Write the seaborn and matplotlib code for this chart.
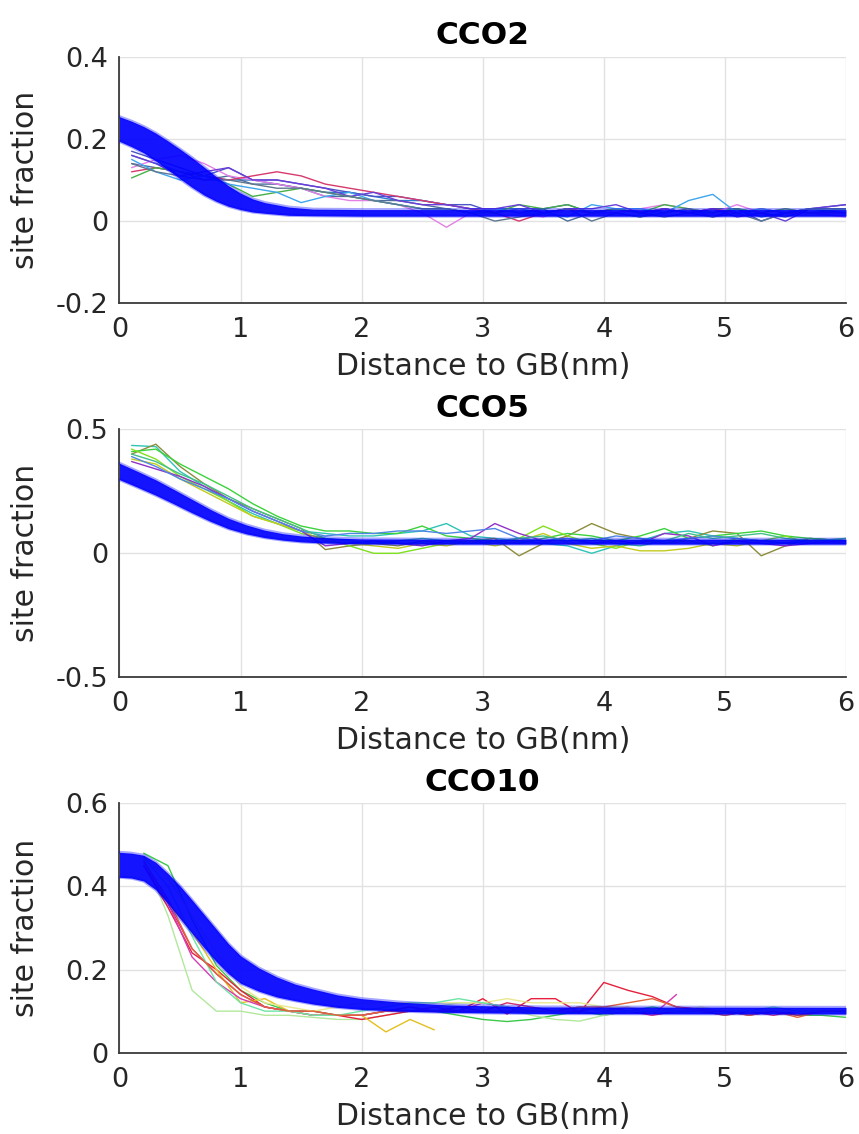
import numpy as np
import pandas as pd
import matplotlib
matplotlib.use("Agg")
import matplotlib.pyplot as plt
import seaborn as sns

sns.set_theme(style="white")
plt.rcParams["font.family"] = ["DejaVu Sans"]

# ---------------- data ----------------
titles = ["CCO2", "CCO5", "CCO10"]
x_label = "Distance to GB(nm)"
y_label = "site fraction"
x_ticks = [0, 1, 2, 3, 4, 5, 6]
y_ticks = [[-0.2, 0, 0.2, 0.4], [-0.5, 0, 0.5], [0, 0.2, 0.4, 0.6]]
y_ticklabels = [["-0.2", "0", "0.2", "0.4"], ["-0.5", "0", "0.5"], ["0", "0.2", "0.4", "0.6"]]
y_limits = [(-0.2, 0.4), (-0.5, 0.5), (0, 0.6)]

# thin measured profiles
x_cco2 = [0.1, 0.3, 0.5, 0.7, 0.9, 1.1, 1.3, 1.5, 1.7, 1.9, 2.1, 2.3, 2.5, 2.7, 2.9,
          3.1, 3.3, 3.5, 3.7, 3.9, 4.1, 4.3, 4.5, 4.7, 4.9, 5.1, 5.3, 5.5, 5.7, 6.0]
cco2_runs = {
    "a": [0.16, 0.14, 0.12, 0.11, 0.10, 0.10, 0.09, 0.08, 0.07, 0.07, 0.06, 0.05, 0.05, 0.04, 0.03,
          0.03, 0.03, 0.02, 0.03, 0.02, 0.02, 0.01, 0.03, 0.02, 0.02, 0.03, 0.01, 0.02, 0.03, 0.02],
    "b": [0.14, 0.13, 0.12, 0.10, 0.11, 0.09, 0.09, 0.08, 0.06, 0.06, 0.05, 0.05, 0.04, 0.03, 0.02,
          0.03, 0.02, 0.03, 0.00, 0.02, 0.03, 0.02, 0.01, 0.02, 0.03, 0.03, 0.02, 0.01, 0.03, 0.03],
    "c": [0.17, 0.15, 0.13, 0.11, 0.13, 0.10, 0.10, 0.09, 0.08, 0.07, 0.06, 0.06, 0.05, 0.04, 0.04,
          0.02, 0.03, 0.03, 0.04, 0.02, 0.03, 0.02, 0.03, 0.02, 0.01, 0.03, 0.00, 0.02, 0.03, 0.04],
    "d": [0.13, 0.15, 0.16, 0.14, 0.11, 0.10, 0.09, 0.08, 0.06, 0.05, 0.05, 0.04, 0.02, -0.015, 0.02,
          0.03, 0.02, 0.01, 0.03, 0.02, 0.02, 0.03, 0.04, 0.03, 0.02, 0.04, 0.02, 0.03, 0.02, 0.01],
    "e": [0.12, 0.13, 0.12, 0.11, 0.10, 0.11, 0.12, 0.11, 0.09, 0.08, 0.07, 0.06, 0.05, 0.04, 0.03,
          0.02, 0.00, 0.02, 0.03, 0.02, 0.03, 0.02, 0.03, 0.02, 0.03, 0.02, 0.03, 0.02, 0.02, 0.02],
    "f": [0.105, 0.13, 0.12, 0.11, 0.09, 0.06, 0.07, 0.08, 0.07, 0.06, 0.05, 0.04, 0.03, 0.03, 0.02,
          0.02, 0.04, 0.03, 0.04, 0.02, 0.03, 0.02, 0.04, 0.03, 0.02, 0.03, 0.02, 0.03, 0.02, 0.03],
    "g": [0.15, 0.12, 0.10, 0.11, 0.09, 0.08, 0.07, 0.045, 0.06, 0.07, 0.05, 0.04, 0.03, 0.03, 0.02,
          0.03, 0.02, 0.02, 0.01, 0.04, 0.03, 0.03, 0.02, 0.05, 0.065, 0.02, 0.03, 0.02, 0.03, 0.03],
    "h": [0.16, 0.14, 0.11, 0.12, 0.13, 0.10, 0.10, 0.09, 0.08, 0.06, 0.07, 0.05, 0.04, 0.04, 0.03,
          0.03, 0.04, 0.02, 0.03, 0.03, 0.04, 0.02, 0.03, 0.02, 0.03, 0.01, 0.02, 0.00, 0.03, 0.04],
    "i": [0.14, 0.12, 0.11, 0.10, 0.10, 0.09, 0.08, 0.08, 0.07, 0.06, 0.05, 0.04, 0.03, 0.03, 0.02,
          0.00, 0.01, 0.02, 0.03, 0.00, 0.02, 0.01, 0.02, 0.03, 0.01, 0.02, 0.00, 0.02, 0.03, 0.03],
}
cco2_colors = ["#2b7bd0", "#4d6e9a", "#4b55c8", "#e57fe8", "#d63a6e",
               "#45b045", "#3ea6ee", "#6a3fd8", "#5f7890"]

x_cco5 = x_cco2
cco5_runs = {
    "a": [0.435, 0.43, 0.33, 0.27, 0.21, 0.16, 0.12, 0.09, 0.08, 0.07, 0.07, 0.08, 0.09, 0.12, 0.07,
          0.06, 0.05, 0.04, 0.03, 0.00, 0.03, 0.05, 0.08, 0.09, 0.07, 0.06, 0.05, 0.04, 0.06, 0.05],
    "b": [0.40, 0.44, 0.35, 0.28, 0.22, 0.18, 0.14, 0.10, 0.015, 0.03, 0.04, 0.03, 0.05, 0.04, 0.05,
          0.06, -0.01, 0.04, 0.07, 0.12, 0.08, 0.06, 0.04, 0.06, 0.09, 0.08, -0.01, 0.03, 0.06, 0.05],
    "c": [0.41, 0.42, 0.36, 0.31, 0.26, 0.20, 0.15, 0.11, 0.09, 0.09, 0.08, 0.08, 0.11, 0.07, 0.06,
          0.05, 0.04, 0.06, 0.08, 0.07, 0.05, 0.07, 0.10, 0.06, 0.07, 0.08, 0.09, 0.07, 0.06, 0.05],
    "d": [0.42, 0.38, 0.31, 0.26, 0.21, 0.15, 0.12, 0.08, 0.06, 0.03, 0.00, 0.00, 0.02, 0.04, 0.05,
          0.04, 0.06, 0.11, 0.07, 0.04, 0.02, 0.05, 0.04, 0.05, 0.03, 0.06, 0.05, 0.07, 0.04, 0.06],
    "e": [0.38, 0.36, 0.30, 0.25, 0.20, 0.15, 0.12, 0.09, 0.05, 0.04, 0.03, 0.02, 0.04, 0.03, 0.05,
          0.03, 0.05, 0.08, 0.04, 0.02, 0.03, 0.01, 0.01, 0.02, 0.04, 0.03, 0.05, 0.04, 0.05, 0.04],
    "f": [0.37, 0.34, 0.31, 0.27, 0.22, 0.17, 0.13, 0.09, 0.03, 0.04, 0.05, 0.04, 0.03, 0.05, 0.06,
          0.12, 0.08, 0.05, 0.06, 0.04, 0.05, 0.04, 0.08, 0.07, 0.03, 0.05, 0.04, 0.03, 0.04, 0.05],
    "g": [0.39, 0.35, 0.30, 0.26, 0.22, 0.17, 0.13, 0.09, 0.07, 0.08, 0.08, 0.09, 0.09, 0.08, 0.09,
          0.10, 0.06, 0.05, 0.06, 0.05, 0.07, 0.06, 0.05, 0.06, 0.07, 0.06, 0.05, 0.04, 0.05, 0.05],
    "h": [0.40, 0.37, 0.32, 0.28, 0.23, 0.18, 0.14, 0.10, 0.06, 0.05, 0.04, 0.05, 0.06, 0.05, 0.04,
          0.05, 0.06, 0.07, 0.05, 0.06, 0.04, 0.03, 0.05, 0.08, 0.06, 0.07, 0.08, 0.06, 0.05, 0.06],
}
cco5_colors = ["#2ec4b6", "#8c8c3c", "#3cd23c", "#7ee01e", "#c2cc1e",
               "#9132c8", "#4f85e6", "#42c08a"]

x_cco10 = [0.2, 0.4, 0.6, 0.8, 1.0, 1.2, 1.4, 1.6, 1.8, 2.0, 2.2, 2.4, 2.6, 2.8, 3.0,
           3.2, 3.4, 3.6, 3.8, 4.0, 4.2, 4.4, 4.6, 4.8, 5.0, 5.2, 5.4, 5.6, 5.8, 6.0]
cco10_runs = {
    "a": [0.48, 0.45, 0.32, 0.21, 0.15, 0.12, 0.10, 0.10, 0.09, 0.09, 0.10, 0.11, 0.10, 0.09, 0.08,
          0.075, 0.08, 0.09, 0.10, 0.09, 0.10, 0.11, 0.10, 0.10, 0.09, 0.10, 0.10, 0.09, 0.09, 0.085],
    "b": [0.47, 0.33, 0.15, 0.10, 0.10, 0.09, 0.09, 0.085, 0.08, 0.08, 0.09, 0.10, 0.11, 0.12, 0.12,
          0.11, 0.09, 0.08, 0.076, 0.09, 0.10, 0.10, 0.10, 0.10, 0.10, 0.10, 0.10, 0.10, 0.10, 0.10],
    "c": [0.45, 0.35, 0.24, 0.20, 0.15, 0.11, 0.10, 0.09, 0.09, 0.08, 0.09, 0.10, 0.10, 0.10, 0.13,
          0.093, 0.13, 0.13, 0.096, 0.169, 0.15, 0.135, 0.11, 0.105, 0.10, 0.09, 0.10, 0.09, 0.10, 0.10],
    "d": [0.46, 0.36, 0.25, 0.19, 0.14, 0.11, 0.10, 0.10, 0.09, 0.09, 0.10, 0.11, 0.10, 0.11, 0.10,
          0.12, 0.11, 0.10, 0.10, 0.11, 0.10, 0.09, 0.10, 0.10, 0.09, 0.10, 0.09, 0.10, 0.10, 0.10],
    "e": [0.46, 0.36, 0.29, 0.20, 0.12, 0.13, 0.10, 0.09, 0.09, 0.09, 0.05, 0.08, 0.055],
    "f": [0.45, 0.36, 0.23, 0.17, 0.13, 0.11, 0.10, 0.09, 0.09, 0.09, 0.10, 0.10, 0.11, 0.10, 0.12,
          0.11, 0.10, 0.10, 0.11, 0.10, 0.11, 0.09, 0.14],
    "g": [0.47, 0.42, 0.33, 0.24, 0.16, 0.12, 0.11, 0.10, 0.11, 0.12, 0.12, 0.12, 0.12, 0.12, 0.12,
          0.13, 0.12, 0.12, 0.12, 0.11, 0.11, 0.10, 0.10, 0.11, 0.10, 0.10, 0.10, 0.10, 0.10, 0.10],
    "h": [0.47, 0.40, 0.28, 0.17, 0.12, 0.10, 0.10, 0.09, 0.09, 0.10, 0.11, 0.12, 0.12, 0.13, 0.12,
          0.11, 0.10, 0.10, 0.11, 0.10, 0.10, 0.10, 0.10, 0.10, 0.10, 0.10, 0.11, 0.10, 0.10, 0.10],
    "i": [0.46, 0.37, 0.25, 0.19, 0.14, 0.11, 0.10, 0.10, 0.09, 0.09, 0.10, 0.10, 0.10, 0.10, 0.10,
          0.10, 0.10, 0.10, 0.11, 0.11, 0.12, 0.13, 0.11, 0.10, 0.10, 0.09, 0.10, 0.085, 0.10, 0.10],
}
cco10_colors = ["#3cc84a", "#b2e89c", "#e6203c", "#d4306c", "#e4c01e",
                "#d63cb4", "#e8e890", "#6ee4a4", "#e0643a"]

# fitted model band (lower / upper envelope of the blue curves)
band_x_cco2 = [0.0, 0.1, 0.2, 0.3, 0.4, 0.5, 0.6, 0.7, 0.8, 0.9, 1.0, 1.1, 1.2, 1.4, 1.6, 2.0, 6.0]
band_lo_cco2 = [0.194, 0.181, 0.166, 0.146, 0.125, 0.103, 0.082, 0.063, 0.048, 0.036, 0.028,
                0.022, 0.019, 0.014, 0.013, 0.012, 0.012]
band_hi_cco2 = [0.254, 0.243, 0.230, 0.214, 0.195, 0.175, 0.154, 0.131, 0.108, 0.086, 0.068,
                0.054, 0.045, 0.034, 0.029, 0.028, 0.028]

band_x_cco5 = [0.0, 0.15, 0.3, 0.45, 0.6, 0.75, 0.9, 1.05, 1.2, 1.35, 1.5, 1.7, 2.0, 2.5, 6.0]
band_lo_cco5 = [0.297, 0.266, 0.234, 0.199, 0.163, 0.129, 0.099, 0.078, 0.063, 0.053, 0.046,
                0.041, 0.038, 0.037, 0.037]
band_hi_cco5 = [0.363, 0.330, 0.296, 0.257, 0.217, 0.177, 0.141, 0.114, 0.093, 0.079, 0.070,
                0.063, 0.058, 0.057, 0.057]

band_x_cco10 = [0.0, 0.1, 0.2, 0.3, 0.4, 0.5, 0.6, 0.7, 0.8, 0.9, 1.0, 1.15, 1.3, 1.45, 1.6,
                1.8, 2.0, 2.3, 2.7, 3.5, 6.0]
band_lo_cco10 = [0.422, 0.420, 0.413, 0.392, 0.359, 0.323, 0.287, 0.252, 0.219, 0.190, 0.167,
                 0.148, 0.134, 0.125, 0.117, 0.109, 0.104, 0.100, 0.097, 0.094, 0.093]
band_hi_cco10 = [0.482, 0.480, 0.475, 0.458, 0.431, 0.401, 0.367, 0.332, 0.297, 0.262, 0.233,
                 0.204, 0.182, 0.165, 0.153, 0.139, 0.130, 0.122, 0.115, 0.110, 0.109]

panels = [
    (x_cco2, cco2_runs, cco2_colors, band_x_cco2, band_lo_cco2, band_hi_cco2),
    (x_cco5, cco5_runs, cco5_colors, band_x_cco5, band_lo_cco5, band_hi_cco5),
    (x_cco10, cco10_runs, cco10_colors, band_x_cco10, band_lo_cco10, band_hi_cco10),
]

# ---------------- layout ----------------
W, H = 859, 1134
axes_px = [(119.5, 56.7, 846.0, 303.3), (119.5, 429.3, 846.0, 677.3), (119.5, 803.3, 846.0, 1052.7)]

fig = plt.figure(figsize=(W / 100, H / 100), dpi=100)
fig.patch.set_facecolor("white")

TXT = "#262626"
SPINE = "#3a3a3a"
BLUE = (0.0, 0.0, 1.0)

for i, (xs, runs, cols, bx, blo, bhi) in enumerate(panels):
    l, t, r, b = axes_px[i]
    ax = fig.add_axes([l / W, (H - b) / H, (r - l) / W, (b - t) / H])
    ax.set_facecolor("white")

    rows = []
    for name, ys in runs.items():
        for xv, yv in zip(xs, ys):
            rows.append((name, xv, yv))
    df = pd.DataFrame(rows, columns=["run", "distance", "fraction"])
    names = list(runs.keys())
    sns.lineplot(data=df, x="distance", y="fraction", hue="run", hue_order=names,
                 palette=dict(zip(names, cols)), estimator=None, legend=False,
                 lw=1.0, ax=ax, zorder=2)

    ax.fill_between(bx, blo, bhi, color=BLUE, alpha=0.92, lw=0, zorder=3)
    edge_df = pd.DataFrame({"distance": list(bx) * 2,
                            "fraction": list(blo) + list(bhi),
                            "edge": ["lo"] * len(bx) + ["hi"] * len(bx)})
    sns.lineplot(data=edge_df, x="distance", y="fraction", hue="edge",
                 palette={"lo": BLUE, "hi": BLUE}, estimator=None, legend=False,
                 lw=2.2, alpha=0.35, ax=ax, zorder=3)

    ax.set_xlim(0, 6)
    ax.set_ylim(*y_limits[i])
    ax.set_xticks(x_ticks)
    ax.set_xticklabels([str(v) for v in x_ticks])
    ax.set_yticks(y_ticks[i])
    ax.set_yticklabels(y_ticklabels[i])

    ax.grid(True, color="#e2e2e2", lw=1.0)
    ax.set_axisbelow(True)
    for s in ["top", "right"]:
        ax.spines[s].set_visible(False)
    for s in ["left", "bottom"]:
        ax.spines[s].set_color(SPINE)
        ax.spines[s].set_linewidth(1.3)
    ax.tick_params(direction="in", length=5, width=1.0, color=SPINE,
                   labelsize=19.5, labelcolor=TXT)
    ax.tick_params(axis="x", pad=10)
    ax.tick_params(axis="y", pad=8)

    ax.set_title(titles[i], fontsize=22.5, fontweight="bold", color="black", pad=9)
    ax.set_xlabel(x_label, fontsize=21.5, color=TXT)
    ax.set_ylabel(y_label, fontsize=21.5, color=TXT)
    h_ax = b - t
    w_ax = r - l
    ax.xaxis.label.set_va("baseline")
    ax.xaxis.set_label_coords(0.5, -(375 - 303.3) / 246.6)
    ax.yaxis.label.set_va("center")
    ax.yaxis.set_label_coords(-(119.5 - 26) / w_ax, 0.5)

fig.savefig("out.png", dpi=100, facecolor="white")
